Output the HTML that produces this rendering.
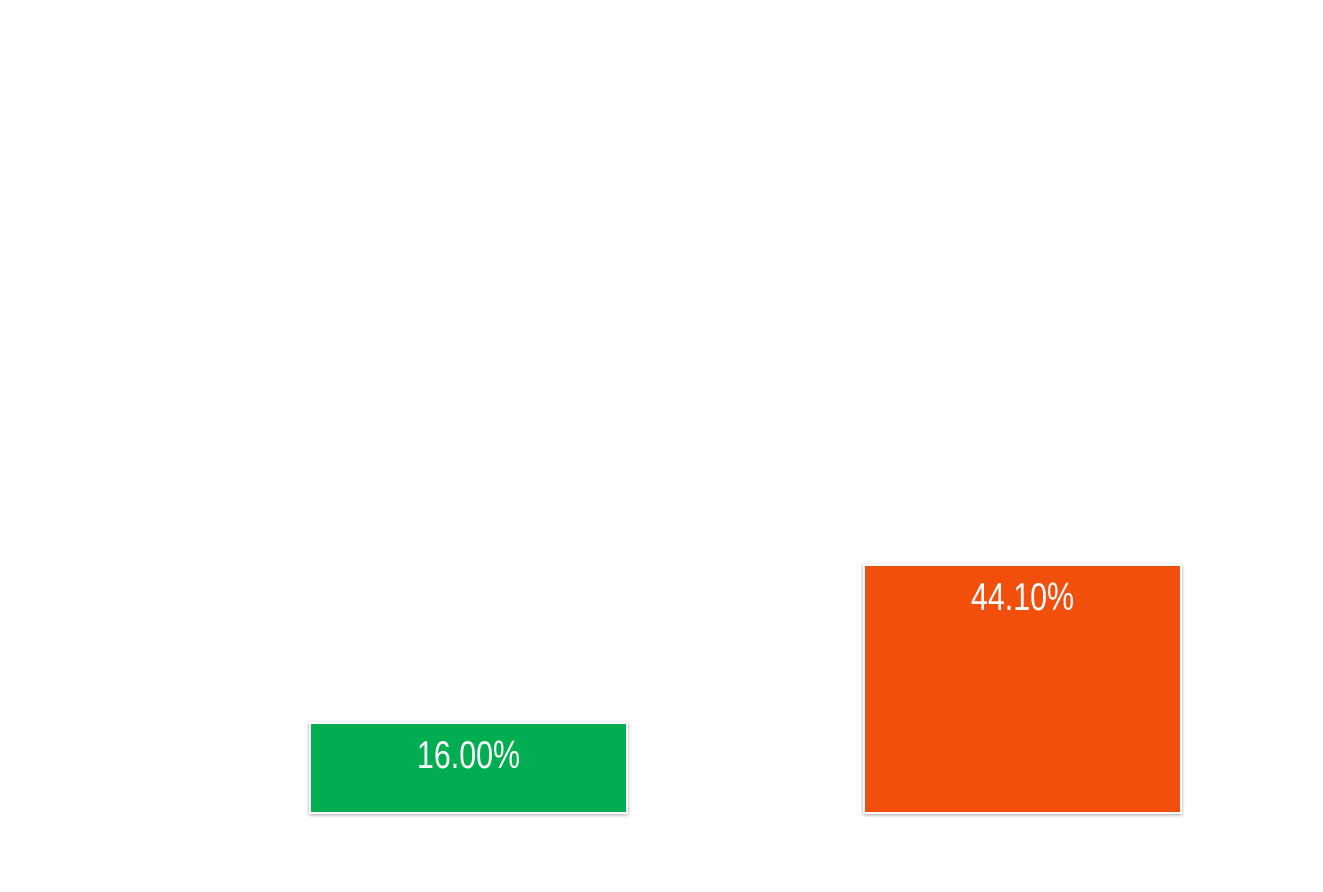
<!DOCTYPE html>
<html><head><meta charset="utf-8"><style>
html,body{margin:0;padding:0;background:#fefefe;width:1323px;height:892px;overflow:hidden}
</style></head><body>
<svg width="1323" height="892">
<defs><filter id="sh" x="-5%" y="-5%" width="110%" height="115%"><feDropShadow dx="0" dy="1" stdDeviation="1.5" flood-color="#000" flood-opacity="0.35"/></filter></defs>
<g id="bars"></g>
</svg>
<script>
const categories=["A","B"];
const values=[16.00,44.10];
const labels=["16.00%","44.10%"];
const colors=["#00ae51","#f25010"];
const base=813, pxPer=5.625;
function y(v){return base-v*pxPer;}
function xLeft(i){return 310+i*554;}
const bw=317;
const g=document.getElementById('bars');
const ns="http://www.w3.org/2000/svg";
values.forEach((v,i)=>{
 const r=document.createElementNS(ns,'rect');
 
 
 r.setAttribute('x',xLeft(i));r.setAttribute('y',y(v));
 r.setAttribute('width',bw);r.setAttribute('height',base-y(v));
 r.setAttribute('fill',colors[i]);r.setAttribute('stroke','#fff');r.setAttribute('stroke-width','2');
 r.setAttribute('filter','url(#sh)');
 g.appendChild(r);
 const t=document.createElementNS(ns,'text');
 
 
 const cx=xLeft(i)+bw/2;
 t.setAttribute('x',cx);t.setAttribute('y',y(v)+45);
 t.setAttribute('text-anchor','middle');t.setAttribute('fill','#fff');
 t.setAttribute('font-family','Liberation Sans, sans-serif');t.setAttribute('font-size','39');
 t.setAttribute('transform','translate('+cx+',0) scale(0.78,1) translate('+(-cx)+',0)');
 t.textContent=labels[i];
 g.appendChild(t);
});
</script>
</body></html>
